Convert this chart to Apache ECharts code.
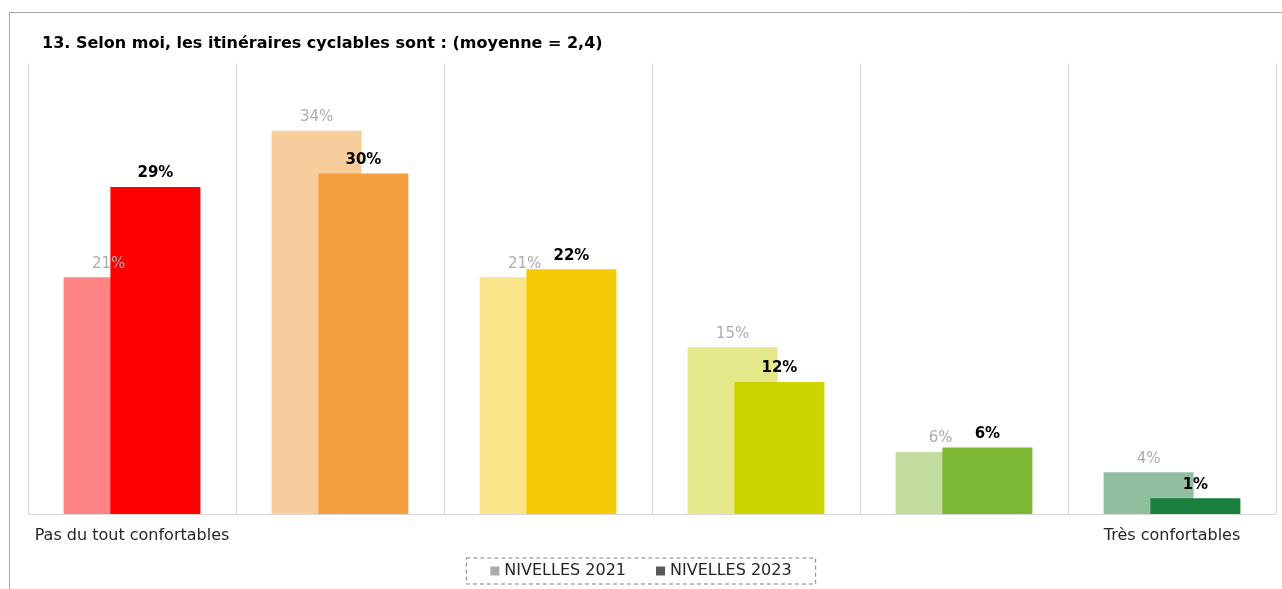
<!DOCTYPE html>
<html>
<head>
<meta charset="utf-8">
<script src="https://cdn.jsdelivr.net/npm/echarts@6/dist/echarts.min.js"></script>
<style>
  html, body { margin: 0; padding: 0; background: #fff; }
  #chart { width: 1282px; height: 589px; }
</style>
</head>
<body>
<div id="chart"></div>
<script>
const categories = ['Pas du tout confortables', '', '', '', '', 'Très confortables'];
const values2021 = [21, 34, 21, 14.8, 5.5, 3.7];
const values2023 = [29, 30.2, 21.7, 11.7, 5.9, 1.4];
const colors2021 = ['#FF8585', '#F8CD9C', '#F9E48A', '#E4E78A', '#C2DD9E', '#8FBF9F'];
const colors2023 = ['#FF0000', '#F5A040', '#F5CB05', '#CBD500', '#7DB835', '#1A7F3C'];

const font = 'Verdana, "DejaVu Sans", sans-serif';

const chart = echarts.init(document.getElementById('chart'));

const pct = (p) => Math.round(p.value) + '%';

chart.setOption({
  backgroundColor: '#fff',
  animation: false,
  title: {
    text: '13. Selon moi, les itinéraires cyclables sont : (moyenne = 2,4)',
    left: 37,
    top: 31,
    textStyle: { fontFamily: font, fontSize: 16, fontWeight: 'bold', color: '#000' }
  },
  graphic: [{
    type: 'rect',
    shape: { x: 9.5, y: 12.5, width: 1300, height: 600 },
    style: { fill: 'none', stroke: '#A6A6A6', lineWidth: 1 },
    silent: true
  }],
  legend: {
    bottom: 5,
    left: 'center',
    icon: 'rect',
    itemWidth: 9,
    itemHeight: 9,
    itemGap: 30,
    padding: [5, 24, 5, 24],
    borderColor: '#808080',
    borderWidth: 1,
    borderType: [4, 3],
    textStyle: { fontFamily: font, fontSize: 16, color: '#262626' },
    data: [
      { name: 'NIVELLES 2021', itemStyle: { color: '#AAAAAA' } },
      { name: 'NIVELLES 2023', itemStyle: { color: '#595959' } }
    ]
  },
  grid: { left: 28, right: 6, top: 63, bottom: 75 },
  xAxis: {
    type: 'category',
    data: categories,
    axisLine: { lineStyle: { color: '#D9D9D9' } },
    axisTick: { show: false },
    splitLine: { show: true, lineStyle: { color: '#D9D9D9' } },
    axisLabel: { interval: 0, margin: 14, fontFamily: font, fontSize: 16, color: '#262626' }
  },
  yAxis: {
    type: 'value',
    min: 0,
    max: 40,
    show: false,
    splitLine: { show: false }
  },
  series: [
    {
      name: 'NIVELLES 2021',
      type: 'bar',
      barWidth: 90,
      barGap: '-48%',
      itemStyle: { color: '#AAAAAA' },
      data: values2021.map((v, i) => ({ value: v, itemStyle: { color: colors2021[i] } })),
      label: {
        show: true,
        position: 'top',
        distance: 6,
        formatter: pct,
        fontFamily: font,
        fontSize: 15,
        color: '#ADADAD'
      }
    },
    {
      name: 'NIVELLES 2023',
      type: 'bar',
      barWidth: 90,
      itemStyle: { color: '#595959' },
      data: values2023.map((v, i) => ({ value: v, itemStyle: { color: colors2023[i] } })),
      label: {
        show: true,
        position: 'top',
        distance: 6,
        formatter: pct,
        fontFamily: font,
        fontSize: 15,
        fontWeight: 'bold',
        color: '#000'
      }
    }
  ]
});
</script>
</body>
</html>
